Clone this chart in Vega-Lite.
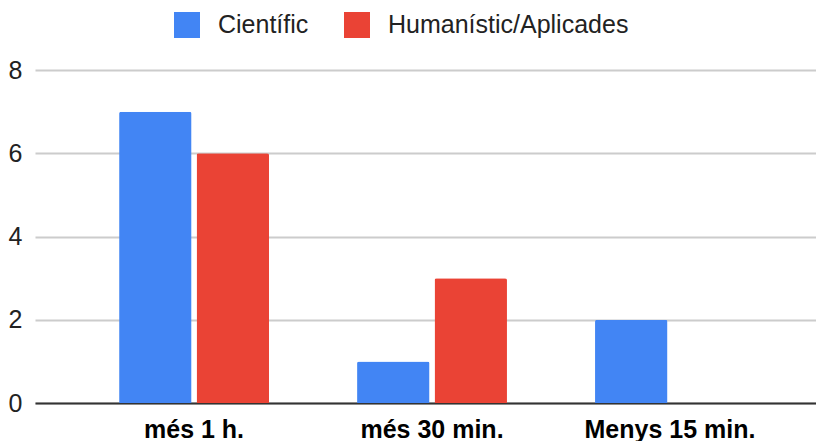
{
  "$schema": "https://vega.github.io/schema/vega-lite/v6.json",
  "width": 781,
  "height": 333,
  "autosize": {"type": "none"},
  "padding": {"left": 35, "top": 70, "right": 0, "bottom": 38},
  "background": "white",
  "config": {"view": {"stroke": null}, "font": "Liberation Sans"},
  "data": {
    "values": [
      {"cat": "més 1 h.", "serie": "Científic", "value": 7},
      {"cat": "més 1 h.", "serie": "Humanístic/Aplicades", "value": 6},
      {"cat": "més 30 min.", "serie": "Científic", "value": 1},
      {"cat": "més 30 min.", "serie": "Humanístic/Aplicades", "value": 3},
      {"cat": "Menys 15 min.", "serie": "Científic", "value": 2},
      {"cat": "Menys 15 min.", "serie": "Humanístic/Aplicades", "value": 0}
    ]
  },
  "mark": {"type": "bar", "cornerRadiusEnd": 2},
  "encoding": {
    "x": {
      "field": "cat",
      "type": "nominal",
      "sort": null,
      "scale": {"paddingInner": 0.37, "paddingOuter": 0.326, "align": 0.542},
      "axis": {
        "title": null,
        "labelAngle": 0,
        "labelFontSize": 25,
        "labelFontWeight": "bold",
        "labelColor": "#000000",
        "labelLimit": 400,
        "ticks": false,
        "domainColor": "#333333",
        "domainWidth": 2,
        "labelBaseline": "alphabetic",
        "labelPadding": 34
      }
    },
    "xOffset": {"field": "serie", "sort": null, "scale": {"paddingInner": 0.065}},
    "y": {
      "field": "value",
      "type": "quantitative",
      "scale": {"domain": [0, 8]},
      "axis": {
        "title": null,
        "values": [0, 2, 4, 6, 8],
        "domain": false,
        "ticks": false,
        "labelFontSize": 25,
        "labelColor": "#222222",
        "labelPadding": 13,
        "gridColor": "#cccccc",
        "gridWidth": 2
      }
    },
    "color": {
      "field": "serie",
      "type": "nominal",
      "sort": null,
      "scale": {"domain": ["Científic", "Humanístic/Aplicades"], "range": ["#4285F4", "#EA4335"]},
      "legend": {
        "title": null,
        "orient": "none",
        "legendX": 139,
        "legendY": -58,
        "direction": "horizontal",
        "symbolType": "square",
        "symbolSize": 676,
        "symbolStrokeWidth": 0,
        "symbolOpacity": 1,
        "labelFontSize": 25,
        "labelColor": "#222222",
        "labelLimit": 500,
        "labelOffset": 18,
        "columnPadding": 35,
        "padding": 0
      }
    }
  }
}
